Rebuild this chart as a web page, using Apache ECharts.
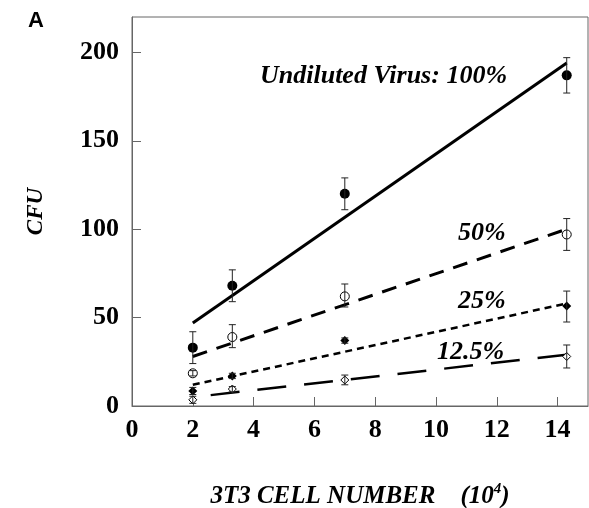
<!DOCTYPE html>
<html>
<head>
<meta charset="utf-8">
<script src="https://cdn.jsdelivr.net/npm/echarts@6/dist/echarts.min.js"></script>
<style>
  html, body { margin: 0; padding: 0; background: #fff; }
  #chart { width: 589px; height: 508px; }
</style>
</head>
<body>
<div id="chart"></div>
<script>
// x positions (10^4 cells)
const cellNumbers = [2, 3.3, 7, 14.3];
const xTicks = [0, 2, 4, 6, 8, 10, 12, 14];
const yTicks = [0, 50, 100, 150, 200];

// CFU means and error bar ends, per dilution
const cfu100 = [33, 68, 120, 187];
const cfu100Low = [24, 59, 111, 177];
const cfu100High = [42, 77, 129, 197];

const cfu50 = [18.5, 39, 62, 97];
const cfu50Low = [17, 33, 56, 88];
const cfu50High = [20, 46, 69, 106];

const cfu25 = [8.5, 17, 37, 56.5];
const cfu25Low = [6.5, 15.5, 35.5, 47.5];
const cfu25High = [10.5, 18.5, 38.5, 65];

const cfu12 = [3.5, 9.6, 14.7, 28];
const cfu12Low = [1.5, 8, 12, 21.5];
const cfu12High = [5.5, 11, 17.5, 34.5];

// regression line end points (x = 2 and x = 14.3)
const fitX = [2, 14.3];
const fit100 = [47, 194];
const fit50 = [28, 100];
const fit25 = [12, 58];
const fit12 = [5, 29];

const serifBold = '"Liberation Serif", "Times New Roman", serif';

function pts(xs, ys) {
  return xs.map((x, i) => [x, ys[i]]);
}
function errs(xs, lo, hi) {
  return xs.map((x, i) => [x, lo[i], hi[i]]);
}

// 误差线
function errorBarSeries(data) {
  return {
    type: 'custom',
    z: 5,
    data: data,
    renderItem: function (params, api) {
      const x = api.value(0);
      const lo = api.coord([x, api.value(1)]);
      const hi = api.coord([x, api.value(2)]);
      const cap = 3.5;
      const style = { stroke: '#222', lineWidth: 1 };
      return {
        type: 'group',
        children: [
          { type: 'line', shape: { x1: lo[0], y1: lo[1], x2: hi[0], y2: hi[1] }, style: style },
          { type: 'line', shape: { x1: lo[0] - cap, y1: lo[1], x2: lo[0] + cap, y2: lo[1] }, style: style },
          { type: 'line', shape: { x1: hi[0] - cap, y1: hi[1], x2: hi[0] + cap, y2: hi[1] }, style: style },
        ],
      };
    },
  };
}

function fitSeries(ys, width, dash, offset) {
  return {
    type: 'line',
    data: pts(fitX, ys),
    symbol: 'none',
    silent: true,
    z: 2,
    lineStyle: { color: '#000', width: width, type: dash, dashOffset: offset || 0, cap: 'butt' },
  };
}

function pointSeries(ys, symbol, size, filled) {
  return {
    type: 'scatter',
    data: pts(cellNumbers, ys),
    symbol: symbol,
    symbolSize: size,
    z: 4,
    itemStyle: {
      color: filled ? '#000' : '#fff',
      borderColor: '#000',
      borderWidth: filled ? 0 : 1,
      opacity: 1,
    },
  };
}

const labelFont = 'italic bold 26px ' + serifBold;

const chart = echarts.init(document.getElementById('chart'));
chart.setOption({
  animation: false,
  grid: {
    left: 132, right: 1, top: 17, bottom: 102,
    outerBoundsMode: 'none',
    show: true, borderColor: '#666', borderWidth: 1,
  },
  xAxis: {
    type: 'value',
    min: 0, max: 15, interval: 2,
    axisLine: { lineStyle: { color: '#666', width: 1 } },
    axisTick: { inside: true, length: 9, lineStyle: { color: '#666' } },
    splitLine: { show: false },
    axisLabel: {
      margin: 11,
      showMaxLabel: false,
      color: '#000',
      fontFamily: serifBold,
      fontWeight: 'bold',
      fontSize: 26,
      formatter: (v) => (xTicks.indexOf(v) >= 0 ? String(v) : ''),
    },
    name: '{t|3T3 CELL NUMBER    (10}{s|4}{t|)}',
    nameLocation: 'middle',
    nameGap: 76,
    nameTextStyle: {
      rich: {
        t: { fontFamily: serifBold, fontWeight: 'bold', fontStyle: 'italic', fontSize: 25, color: '#000' },
        s: { fontFamily: serifBold, fontWeight: 'bold', fontStyle: 'italic', fontSize: 15, color: '#000', verticalAlign: 'top', padding: [0, 0, 14, 0] },
      },
    },
  },
  yAxis: {
    type: 'value',
    min: 0, max: 220, interval: 50,
    axisLine: { show: true, lineStyle: { color: '#666', width: 1 } },
    axisTick: { show: true, inside: true, length: 9, lineStyle: { color: '#666' } },
    splitLine: { show: false },
    axisLabel: {
      margin: 13,
      showMaxLabel: false,
      color: '#000',
      fontFamily: serifBold,
      fontWeight: 'bold',
      fontSize: 26,
      formatter: (v) => (yTicks.indexOf(v) >= 0 ? String(v) : ''),
    },
    name: 'CFU',
    nameLocation: 'middle',
    nameGap: 84,
    nameTextStyle: { fontFamily: serifBold, fontWeight: 'bold', fontStyle: 'italic', fontSize: 23, color: '#000' },
  },
  graphic: [
    { type: 'text', left: 28, top: 10, style: { text: 'A', font: 'bold 22px "Liberation Sans", Arial, sans-serif', fill: '#000' } },
    { type: 'text', left: 260, top: 63, style: { text: 'Undiluted Virus: 100%', font: labelFont, fill: '#000' } },
    { type: 'text', left: 458, top: 220, style: { text: '50%', font: labelFont, fill: '#000' } },
    { type: 'text', left: 458, top: 288, style: { text: '25%', font: labelFont, fill: '#000' } },
    { type: 'text', left: 437, top: 339, style: { text: '12.5%', font: labelFont, fill: '#000' } },
  ],
  series: [
    fitSeries(fit100, 3, 'solid'),
    fitSeries(fit50, 3, [15, 10], 0),
    fitSeries(fit25, 2.5, [7, 5], 0),
    fitSeries(fit12, 2.5, [29, 18], 29),
    errorBarSeries(errs(cellNumbers, cfu100Low, cfu100High)),
    errorBarSeries(errs(cellNumbers, cfu50Low, cfu50High)),
    errorBarSeries(errs(cellNumbers, cfu25Low, cfu25High)),
    errorBarSeries(errs(cellNumbers, cfu12Low, cfu12High)),
    pointSeries(cfu100, 'circle', 10, true),
    pointSeries(cfu50, 'circle', 9, false),
    pointSeries(cfu25, 'diamond', 9, true),
    pointSeries(cfu12, 'diamond', 8, false),
  ],
});
</script>
</body>
</html>
